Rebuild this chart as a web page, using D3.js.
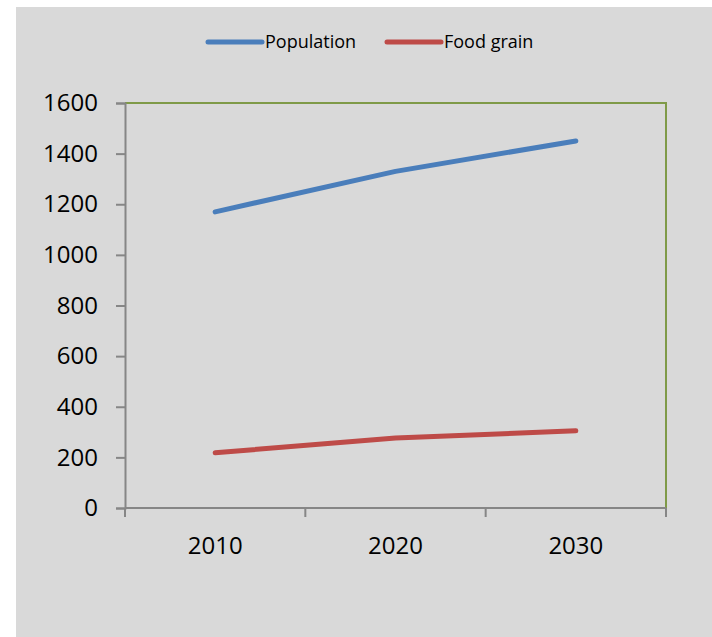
<!DOCTYPE html>
<html>
<head>
<meta charset="utf-8">
<script src="https://cdn.jsdelivr.net/npm/d3@7"></script>
<style>
  html, body { margin: 0; padding: 0; background: #ffffff; }
  svg { display: block; }
</style>
</head>
<body>
<svg id="chart" width="712" height="637"></svg>
<script>
// Chart data
const years = ["2010", "2020", "2030"];
const population = [1170, 1330, 1450];
const foodGrain = [218, 277, 305];
const yTicks = [0, 200, 400, 600, 800, 1000, 1200, 1400, 1600];
const seriesNames = ["Population", "Food grain"];
const seriesColors = ["#4a7ebb", "#be4b48"];

const svg = d3.select("#chart");
const font = "'Open Sans', 'Liberation Sans', sans-serif";

// Chart panel background
svg.append("rect")
  .attr("x", 16).attr("y", 7)
  .attr("width", 696).attr("height", 630)
  .attr("fill", "#d9d9d9");

const plot = { left: 125, right: 666, top: 103, bottom: 508 };

const x = d3.scaleBand().domain(years).range([plot.left, plot.right]).paddingInner(0).paddingOuter(0);
const y = d3.scaleLinear().domain([0, 1600]).range([plot.bottom, plot.top]);

// Plot area frame: top and right edges
svg.append("path")
  .attr("d", `M${plot.left},${plot.top}H${plot.right}V${plot.bottom}`)
  .attr("fill", "none")
  .attr("stroke", "#7f9a48")
  .attr("stroke-width", 2);

// Y axis
const yAxis = svg.append("g")
  .attr("transform", `translate(${plot.left},0)`)
  .call(d3.axisLeft(y).tickValues(yTicks).tickSize(9).tickPadding(18).tickFormat(d3.format("d")));
yAxis.select(".domain").attr("stroke", "#868686").attr("stroke-width", 2);
yAxis.selectAll(".tick line").attr("stroke", "#868686").attr("stroke-width", 2);
yAxis.selectAll(".tick text")
  .attr("font-family", font).attr("font-size", 24).attr("fill", "#000");

// X axis with category boundary ticks
const xAxisG = svg.append("g").attr("transform", `translate(0,${plot.bottom})`);
xAxisG.append("line")
  .attr("x1", plot.left).attr("x2", plot.right)
  .attr("stroke", "#868686").attr("stroke-width", 2);
const boundaries = [plot.left].concat(years.map(d => x(d) + x.bandwidth()));
xAxisG.selectAll("line.tick")
  .data(boundaries)
  .join("line")
  .attr("class", "tick")
  .attr("x1", d => d).attr("x2", d => d)
  .attr("y1", 0).attr("y2", 9)
  .attr("stroke", "#868686").attr("stroke-width", 2);
xAxisG.selectAll("text")
  .data(years)
  .join("text")
  .attr("x", d => x(d) + x.bandwidth() / 2)
  .attr("y", 46)
  .attr("text-anchor", "middle")
  .attr("font-family", font).attr("font-size", 24).attr("fill", "#000")
  .text(d => d);

// Series lines
const line = d3.line()
  .x((d, i) => x(years[i]) + x.bandwidth() / 2)
  .y(d => y(d));

[population, foodGrain].forEach((vals, i) => {
  svg.append("path")
    .datum(vals)
    .attr("d", line)
    .attr("fill", "none")
    .attr("stroke", seriesColors[i])
    .attr("stroke-width", 5)
    .attr("stroke-linecap", "round")
    .attr("stroke-linejoin", "round");
});

// Legend
const legendItems = [{ x: 208 }, { x: 387 }];
const legend = svg.append("g");
seriesNames.forEach((name, i) => {
  const g = legend.append("g").attr("transform", `translate(${legendItems[i].x},42)`);
  g.append("line")
    .attr("x1", 0).attr("x2", 54)
    .attr("stroke", seriesColors[i]).attr("stroke-width", 5)
    .attr("stroke-linecap", "round");
  g.append("text")
    .attr("x", 57).attr("y", 0)
    .attr("dy", "0.35em")
    .attr("font-family", font).attr("font-size", 18).attr("fill", "#000")
    .text(name);
});
</script>
</body>
</html>
